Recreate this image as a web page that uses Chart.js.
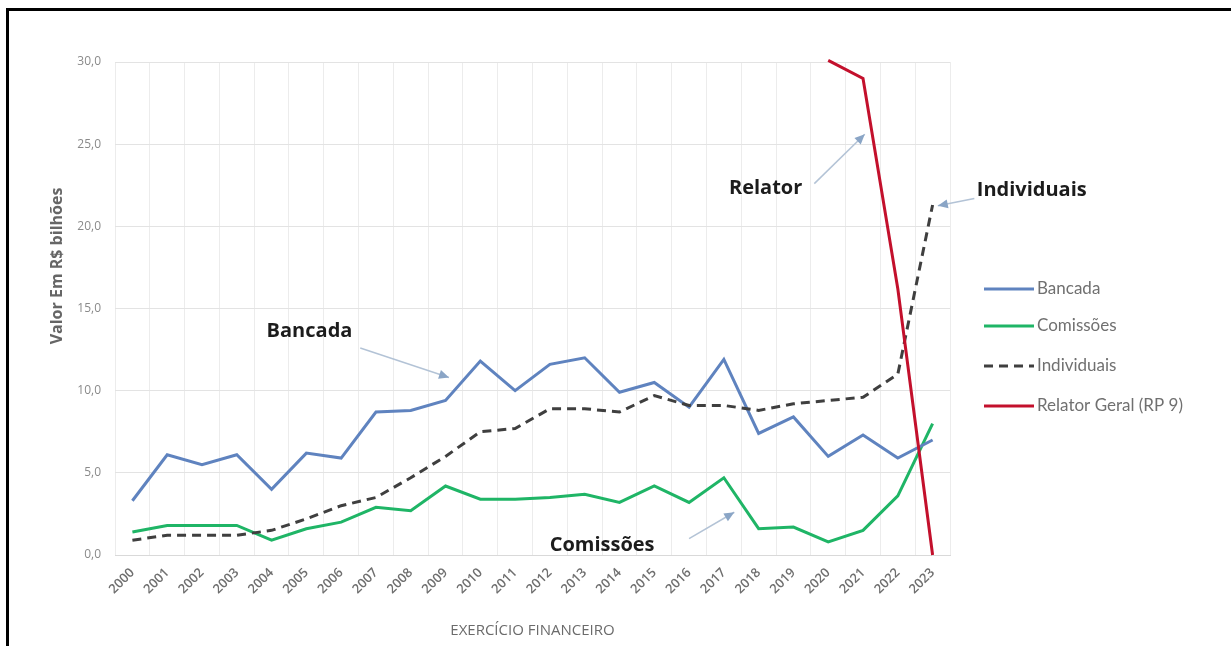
<!DOCTYPE html>
<html lang="pt-BR">
<head>
<meta charset="utf-8">
<title>Emendas parlamentares por tipo</title>
<script src="https://cdn.jsdelivr.net/npm/chart.js@4/dist/chart.umd.min.js"></script>
<style>
  html, body { margin: 0; padding: 0; background: #ffffff; }
  #wrap { width: 1231px; height: 646px; position: relative; }
</style>
</head>
<body>
<div id="wrap"><canvas id="chart" width="1231" height="646"></canvas></div>
<script>
// Exercícios financeiros (eixo X)
const years = ['2000','2001','2002','2003','2004','2005','2006','2007','2008','2009','2010','2011',
               '2012','2013','2014','2015','2016','2017','2018','2019','2020','2021','2022','2023'];

// Valores em R$ bilhões por tipo de emenda
const bancada    = [3.3, 6.1, 5.5, 6.1, 4.0, 6.2, 5.9, 8.7, 8.8, 9.4, 11.8, 10.0,
                    11.6, 12.0, 9.9, 10.5, 9.0, 11.9, 7.4, 8.4, 6.0, 7.3, 5.9, 7.0];
const comissoes  = [1.4, 1.8, 1.8, 1.8, 0.9, 1.6, 2.0, 2.9, 2.7, 4.2, 3.4, 3.4,
                    3.5, 3.7, 3.2, 4.2, 3.2, 4.7, 1.6, 1.7, 0.8, 1.5, 3.6, 8.0];
const individuais = [0.9, 1.2, 1.2, 1.2, 1.5, 2.2, 3.0, 3.5, 4.7, 6.0, 7.5, 7.7,
                     8.9, 8.9, 8.7, 9.7, 9.1, 9.1, 8.8, 9.2, 9.4, 9.6, 11.0, 21.3];
const relatorGeral = [null, null, null, null, null, null, null, null, null, null, null, null,
                      null, null, null, null, null, null, null, null, 30.1, 29.0, 16.2, 0.0];

// Marcas do eixo Y
const yTicks = [0, 5, 10, 15, 20, 25, 30];

// Chamadas: texto na posição (índice do ano, valor) e seta de "from" até "to"
const callouts = [
  { text: 'Bancada',     at: [5.09, 13.6], from: [6.55, 12.6], to: [9.1, 10.8] },
  { text: 'Relator',     at: [18.2, 22.3], from: [19.6, 22.6], to: [21.05, 25.6] },
  { text: 'Individuais', at: [25.85, 22.2], from: [24.2, 21.7], to: [23.15, 21.25] },
  { text: 'Comissões',   at: [13.5, 0.6],  from: [16.0, 1.0],  to: [17.3, 2.6] }
];

const COLORS = {
  bancada: '#5f83bf',
  comissoes: '#1fb566',
  individuais: '#3f3f3f',
  relator: '#c3102c'
};

const fmt = v => v.toFixed(1).replace('.', ',');

// Moldura preta da figura
const framePlugin = {
  id: 'frame',
  beforeDraw(chart) {
    const ctx = chart.ctx;
    ctx.save();
    ctx.fillStyle = '#ffffff';
    ctx.fillRect(0, 0, chart.width, chart.height);
    ctx.fillStyle = '#000000';
    ctx.fillRect(6, 8, chart.width - 6, 3);
    ctx.fillRect(6, 8, 3, chart.height - 8);
    ctx.restore();
  }
};

// Título do eixo Y, legenda lateral e chamadas com setas
const decorPlugin = {
  id: 'decor',
  afterDraw(chart) {
    const ctx = chart.ctx;
    const xs = chart.scales.x, ys = chart.scales.y;
    const px = i => xs.getPixelForValue(i);
    const py = v => ys.getPixelForValue(v);

    ctx.save();
    // título do eixo Y
    ctx.translate(57, 266);
    ctx.rotate(-Math.PI / 2);
    ctx.font = 'bold 16px "Open Sans", sans-serif';
    ctx.fillStyle = '#666666';
    ctx.textAlign = 'center';
    ctx.textBaseline = 'middle';
    ctx.fillText('Valor Em R$ bilhões', 0, 0);
    ctx.restore();

    // legenda
    const legendItems = [
      { label: 'Bancada', color: COLORS.bancada, dash: [], y: 289 },
      { label: 'Comissões', color: COLORS.comissoes, dash: [], y: 326 },
      { label: 'Individuais', color: COLORS.individuais, dash: [9, 6], y: 366 },
      { label: 'Relator Geral (RP 9)', color: COLORS.relator, dash: [], y: 406 }
    ];
    ctx.save();
    ctx.font = '17px Lato, sans-serif';
    ctx.textBaseline = 'middle';
    ctx.textAlign = 'left';
    legendItems.forEach(it => {
      ctx.strokeStyle = it.color;
      ctx.lineWidth = 3;
      ctx.setLineDash(it.dash);
      ctx.beginPath();
      ctx.moveTo(984, it.y);
      ctx.lineTo(1034, it.y);
      ctx.stroke();
      ctx.setLineDash([]);
      ctx.fillStyle = '#707070';
      ctx.fillText(it.label, 1037, it.y);
    });
    ctx.restore();

    // chamadas
    ctx.save();
    callouts.forEach(c => {
      const x1 = px(c.from[0]), y1 = py(c.from[1]);
      const x2 = px(c.to[0]), y2 = py(c.to[1]);
      ctx.strokeStyle = '#b3c3d6';
      ctx.lineWidth = 1.5;
      ctx.beginPath();
      ctx.moveTo(x1, y1);
      ctx.lineTo(x2, y2);
      ctx.stroke();
      const ang = Math.atan2(y2 - y1, x2 - x1);
      const L = 10, W = 4.5;
      ctx.fillStyle = '#8aa5c6';
      ctx.beginPath();
      ctx.moveTo(x2, y2);
      ctx.lineTo(x2 - L * Math.cos(ang) + W * Math.sin(ang), y2 - L * Math.sin(ang) - W * Math.cos(ang));
      ctx.lineTo(x2 - L * Math.cos(ang) - W * Math.sin(ang), y2 - L * Math.sin(ang) + W * Math.cos(ang));
      ctx.closePath();
      ctx.fill();

      ctx.font = 'bold 20px "Open Sans", sans-serif';
      ctx.fillStyle = '#1c1c1c';
      ctx.textAlign = 'center';
      ctx.textBaseline = 'middle';
      ctx.fillText(c.text, px(c.at[0]), py(c.at[1]));
    });
    ctx.restore();
  }
};

const lineBase = { borderWidth: 3, pointRadius: 0, pointHoverRadius: 0, tension: 0, fill: false, clip: false };

new Chart(document.getElementById('chart'), {
  type: 'line',
  data: {
    labels: years,
    datasets: [
      Object.assign({ label: 'Relator Geral (RP 9)', data: relatorGeral, borderColor: COLORS.relator, order: 0, spanGaps: false }, lineBase),
      Object.assign({ label: 'Bancada', data: bancada, borderColor: COLORS.bancada, order: 2 }, lineBase),
      Object.assign({ label: 'Comissões', data: comissoes, borderColor: COLORS.comissoes, order: 3 }, lineBase),
      Object.assign({ label: 'Individuais', data: individuais, borderColor: COLORS.individuais, borderDash: [9, 6], order: 1 }, lineBase)
    ]
  },
  options: {
    responsive: false,
    animation: false,
    events: [],
    layout: { padding: { left: 10, right: 281, top: 62, bottom: 6 } },
    plugins: {
      legend: { display: false },
      tooltip: { enabled: false }
    },
    scales: {
      x: {
        offset: true,
        grid: { color: '#ececec', lineWidth: 1, offset: true, drawTicks: false },
        border: { color: '#d9d9d9', width: 1 },
        ticks: {
          color: '#6f6f6f',
          font: { family: '"Open Sans", sans-serif', size: 13, weight: '600' },
          maxRotation: 45,
          minRotation: 45,
          autoSkip: false,
          padding: 10
        },
        title: {
          display: true,
          text: 'EXERCÍCIO FINANCEIRO',
          color: '#6b6b6b',
          font: { family: '"Open Sans", sans-serif', size: 15 },
          padding: { top: 0, bottom: 0 }
        },
        afterFit(scale) { scale.height = 646 - 555 - 6; }
      },
      y: {
        min: 0,
        max: 30,
        afterBuildTicks(scale) { scale.ticks = yTicks.map(v => ({ value: v })); },
        grid: { color: '#e3e3e3', lineWidth: 1, drawTicks: false },
        border: { display: false },
        ticks: {
          color: '#8a8a8a',
          font: { family: '"Open Sans", sans-serif', size: 12 },
          padding: 14,
          callback: v => fmt(v)
        },
        afterFit(scale) { scale.width = 115 - 10; }
      }
    }
  },
  plugins: [framePlugin, decorPlugin]
});
</script>
</body>
</html>
